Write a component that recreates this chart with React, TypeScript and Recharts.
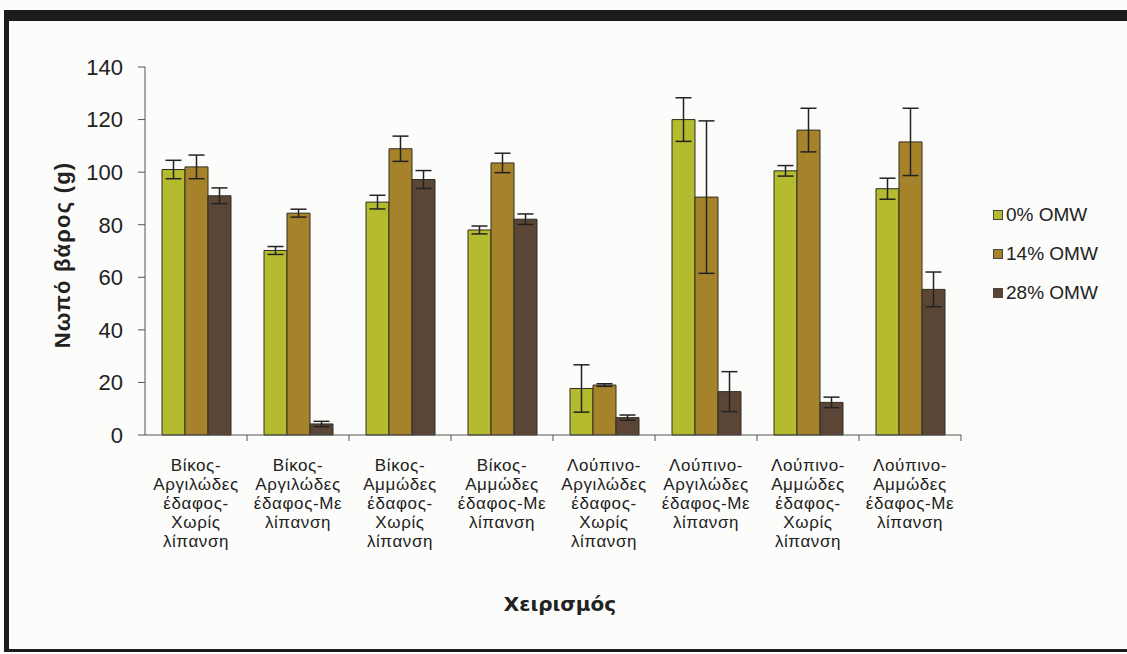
import { Bar, BarChart, ErrorBar, XAxis, YAxis } from 'recharts';

const categories = [
  'Βίκος-\nΑργιλώδες\nέδαφος-\nΧωρίς\nλίπανση',
  'Βίκος-\nΑργιλώδες\nέδαφος-Με\nλίπανση',
  'Βίκος-\nΑμμώδες\nέδαφος-\nΧωρίς\nλίπανση',
  'Βίκος-\nΑμμώδες\nέδαφος-Με\nλίπανση',
  'Λούπινο-\nΑργιλώδες\nέδαφος-\nΧωρίς\nλίπανση',
  'Λούπινο-\nΑργιλώδες\nέδαφος-Με\nλίπανση',
  'Λούπινο-\nΑμμώδες\nέδαφος-\nΧωρίς\nλίπανση',
  'Λούπινο-\nΑμμώδες\nέδαφος-Με\nλίπανση',
];

const omw0 = [101, 70.2, 88.6, 78, 17.7, 120, 100.5, 93.7];
const omw14 = [102, 84.4, 108.9, 103.5, 19, 90.5, 116, 111.5];
const omw28 = [91, 4.2, 97.2, 82.1, 6.6, 16.5, 12.4, 55.4];

const err0 = [3.5, 1.5, 2.6, 1.5, 9, 8.3, 2, 4];
const err14 = [4.5, 1.5, 4.8, 3.7, 0.5, 29, 8.3, 12.8];
const err28 = [3, 1, 3.4, 2, 1, 7.6, 2, 6.6];

const seriesNames = ['0% OMW', '14% OMW', '28% OMW'];
const colors = ['#b4bb2f', '#a6832b', '#5b4536'];
const yTicks = [0, 20, 40, 60, 80, 100, 120, 140];

const data = categories.map((name, i) => ({
  name,
  v0: omw0[i],
  v14: omw14[i],
  v28: omw28[i],
  e0: err0[i],
  e14: err14[i],
  e28: err28[i],
}));

const W = 1127;
const H = 654;
const Y_AXIS_W = 60;
const X_AXIS_H = 30;
// plot area: x 145..961, y 67..435
const margin = { top: 67, right: 166, bottom: 219 - X_AXIS_H, left: 145 - Y_AXIS_W };
const band = (W - 145 - margin.right) / categories.length;
const font = '"Liberation Sans", Arial, sans-serif';
const greekFont = '"DejaVu Sans", Verdana, sans-serif';

function CategoryTick(props: any) {
  const { x, y, payload } = props;
  const lines = String(payload.value).split('\n');
  return (
    <g>
      <line x1={x + band / 2} x2={x + band / 2} y1={y - 8} y2={y - 2} stroke="#555" />
      <text
        x={x}
        y={y + 28}
        textAnchor="middle"
        fontSize={17}
        letterSpacing={0.6}
        fill="#222"
        fontFamily={font}
      >
        {lines.map((l, i) => (
          <tspan key={i} x={x} dy={i === 0 ? 0 : 19}>
            {l}
          </tspan>
        ))}
      </text>
    </g>
  );
}

function LegendBox() {
  return (
    <div style={{ position: 'absolute', left: 993, top: 195, fontFamily: font, fontSize: 19, color: '#222' }}>
      {seriesNames.map((n, i) => (
        <div key={n} style={{ display: 'flex', alignItems: 'center', height: 39 }}>
          <div
            style={{
              width: 8,
              height: 8,
              background: colors[i],
              border: '1px solid #444',
              marginRight: 3,
            }}
          />
          <span>{n}</span>
        </div>
      ))}
    </div>
  );
}

export default function App() {
  return (
    <div style={{ position: 'absolute', left: 0, top: 0, width: W, height: H, background: '#fcfcfa', overflow: 'hidden' }}>
      <div
        style={{
          position: 'absolute',
          left: 4,
          top: 10,
          width: W,
          height: 628,
          borderTop: '11px solid #1c1c1c',
          borderLeft: '5px solid #1c1c1c',
          borderBottom: '3px solid #1c1c1c',
        }}
      />
      <BarChart
        width={W}
        height={H}
        data={data}
        margin={margin}
        barGap={0}
        barSize={23}
        style={{ position: 'absolute', left: 0, top: 0 }}
      >
        <XAxis
          dataKey="name"
          height={X_AXIS_H}
          interval={0}
          tickLine={false}
          tick={<CategoryTick />}
          axisLine={{ stroke: '#555' }}
        />
        <YAxis
          width={Y_AXIS_W}
          domain={[0, 140]}
          ticks={yTicks}
          interval={0}
          tickSize={7}
          tickMargin={15}
          axisLine={{ stroke: '#555' }}
          tickLine={{ stroke: '#555' }}
          tick={{ fill: '#222', fontSize: 22, fontFamily: font }}
          label={{
            value: 'Νωπό βάρος (g)',
            angle: -90,
            position: 'insideLeft',
            offset: -23,
            dy: 4,
            style: {
              fontFamily: font,
              fontSize: 22,
              fontWeight: 'bold',
              letterSpacing: 1.2,
              fill: '#222',
              textAnchor: 'middle',
            },
          }}
        />
        <Bar dataKey="v0" name={seriesNames[0]} fill={colors[0]} stroke="#2e2e22" strokeWidth={1} isAnimationActive={false}>
          <ErrorBar dataKey="e0" width={8} stroke="#222" strokeWidth={1.5} />
        </Bar>
        <Bar dataKey="v14" name={seriesNames[1]} fill={colors[1]} stroke="#2e2e22" strokeWidth={1} isAnimationActive={false}>
          <ErrorBar dataKey="e14" width={8} stroke="#222" strokeWidth={1.5} />
        </Bar>
        <Bar dataKey="v28" name={seriesNames[2]} fill={colors[2]} stroke="#2e2e22" strokeWidth={1} isAnimationActive={false}>
          <ErrorBar dataKey="e28" width={8} stroke="#222" strokeWidth={1.5} />
        </Bar>
        <text x={560} y={611} textAnchor="middle" fontFamily={greekFont} fontSize={20} fontWeight="bold" fill="#222">
          Χειρισμός
        </text>
      </BarChart>
      <LegendBox />
    </div>
  );
}
